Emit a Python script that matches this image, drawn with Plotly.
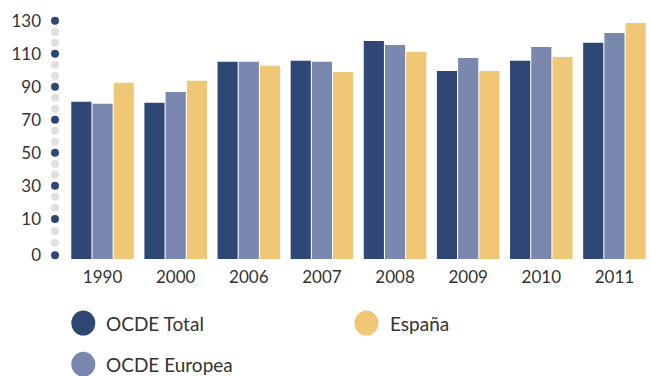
import plotly.graph_objects as go

# ---- data ----
years = ["1990", "2000", "2006", "2007", "2008", "2009", "2010", "2011"]
ocde_total = [80.9, 80.3, 105.1, 105.7, 117.8, 99.6, 105.7, 116.6]
ocde_europea = [79.7, 86.9, 105.1, 105.1, 115.3, 107.5, 114.1, 122.6]
espana = [92.4, 93.6, 102.7, 99.0, 111.1, 99.6, 108.1, 128.6]

series_names = ["OCDE Total", "OCDE Europea", "España"]
series_values = [ocde_total, ocde_europea, espana]
series_colors = ["#2F4775", "#7A88B0", "#F0C776"]
legend_rank = [1, 3, 2]

tick_values = [130, 110, 90, 70, 50, 30, 10, -12]
tick_labels = ["130", "110", "90", "70", "50", "30", "10", "0"]

# ---- layout constants ----
W, H = 651, 376
PLOT_L, PLOT_T, PLOT_B = 66, 10, 259.5
Y_MIN, Y_MAX = -14.3, 136.5
TEXT = "#333333"
FONT = "Lato"

fig = go.Figure()

for name, vals, col in zip(series_names, series_values, series_colors):
    fig.add_trace(go.Bar(
        x=years, y=[v - Y_MIN for v in vals], base=Y_MIN,
        name=name, marker=dict(color=col, line=dict(width=0)),
        showlegend=False, xaxis="x", yaxis="y",
        customdata=vals, hovertemplate="%{x}: %{customdata}<extra>" + name + "</extra>",
    ))

# decorative dotted axis: dark dots at ticks, grey dots at thirds in between
dark_y = list(tick_values)
grey_y = []
for a, b in zip(tick_values[:-1], tick_values[1:]):
    grey_y += [a + (b - a) / 3, a + 2 * (b - a) / 3]
fig.add_trace(go.Scatter(x=[55] * len(grey_y), y=grey_y, mode="markers",
                         marker=dict(size=8, color="#E0E0E2"), xaxis="x2", yaxis="y",
                         showlegend=False, hoverinfo="skip", cliponaxis=False))
fig.add_trace(go.Scatter(x=[55] * len(dark_y), y=dark_y, mode="markers",
                         marker=dict(size=8, color="#2F4775"), xaxis="x2", yaxis="y",
                         showlegend=False, hoverinfo="skip", cliponaxis=False))

# manual legend (circles + text)
plot_h = PLOT_B - PLOT_T
def px_x(p):
    return p / W
def px_y(p):
    return (PLOT_B - p) / plot_h

legend_pos = {1: (83.3, 323.7), 2: (366.5, 323.7), 3: (83.3, 365.0)}
shapes = []
annotations = []
for name, col, rk in zip(series_names, series_colors, legend_rank):
    cx, cy = legend_pos[rk]
    shapes.append(dict(type="circle", xref="paper", yref="paper",
                       x0=px_x(cx - 12), x1=px_x(cx + 12),
                       y0=px_y(cy + 12.5), y1=px_y(cy - 12.5),
                       fillcolor=col, line=dict(width=0), layer="above"))
    annotations.append(dict(text=name, xref="paper", yref="paper",
                            x=px_x(cx + 21), y=px_y(cy), xanchor="left", yanchor="middle",
                            showarrow=False, font=dict(family=FONT, size=19, color=TEXT)))

fig.update_layout(
    width=W, height=H,
    margin=dict(l=0, r=0, t=PLOT_T, b=H - PLOT_B, pad=0),
    paper_bgcolor="white", plot_bgcolor="white",
    barmode="group", bargap=0.13, bargroupgap=0.05,
    font=dict(family=FONT, color=TEXT),
    xaxis=dict(domain=[PLOT_L / W, 1], type="category", showgrid=False, zeroline=False,
               showline=False, ticks="", ticklabelstandoff=6,
               tickfont=dict(family=FONT, size=17, color=TEXT)),
    xaxis2=dict(domain=[0, PLOT_L / W], range=[0, PLOT_L], visible=False, anchor="y"),
    yaxis=dict(range=[Y_MIN, Y_MAX], showgrid=False, zeroline=False, showline=False,
               ticks="", tickvals=tick_values, ticktext=tick_labels, ticklabelstandoff=24,
               tickfont=dict(family=FONT, size=17, color=TEXT), anchor="x"),
    shapes=shapes, annotations=annotations,
)

fig.write_html("out.html")
